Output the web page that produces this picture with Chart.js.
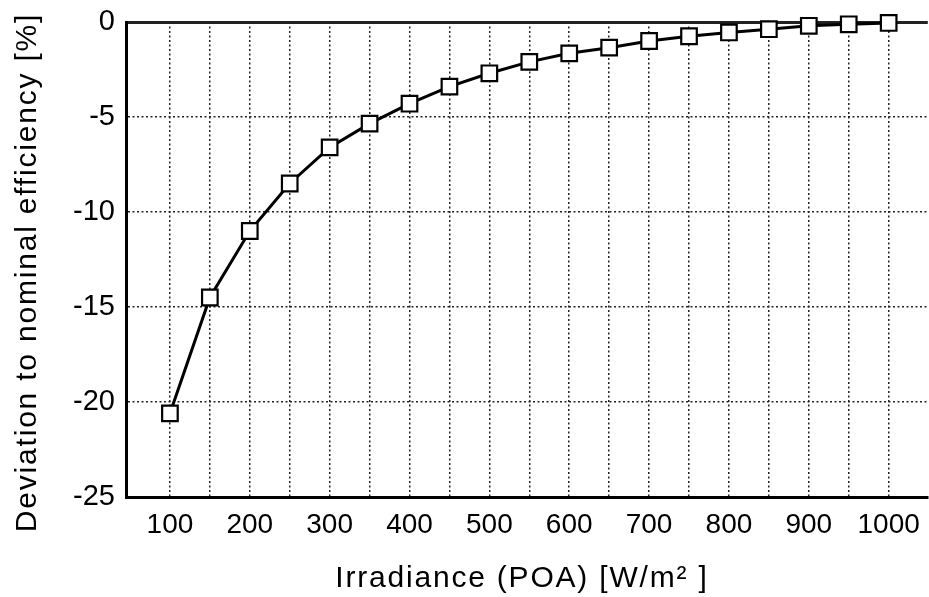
<!DOCTYPE html>
<html>
<head>
<meta charset="utf-8">
<script src="https://cdn.jsdelivr.net/npm/chart.js@4.4.1/dist/chart.umd.min.js"></script>
<style>
  html, body { margin: 0; padding: 0; background: #fff; overflow: hidden; }
  #wrap { width: 929px; height: 597px; overflow: hidden; }
</style>
</head>
<body>
<div id="wrap"><canvas id="c" width="941" height="597"></canvas></div>
<script>
const irradiance = [100,150,200,250,300,350,400,450,500,550,600,650,700,750,800,850,900,950,1000];
const deviation = [-20.6,-14.5,-11.0,-8.5,-6.6,-5.35,-4.3,-3.4,-2.7,-2.1,-1.65,-1.35,-1.0,-0.75,-0.55,-0.38,-0.2,-0.12,-0.05];
const xGridValues = [100,150,200,250,300,350,400,450,500,550,600,650,700,750,800,850,900,950,1000];
const xLabelValues = [100,200,300,400,500,600,700,800,900,1000];
const yTickValues = [0,-5,-10,-15,-20,-25];
const xTitle = 'Irradiance (POA) [W/m\u00B2 ]';
const yTitle = 'Deviation to nominal efficiency [%]';

const FONT = "'Liberation Sans', Arial, Helvetica, sans-serif";
const points = irradiance.map((x, i) => ({x: x, y: deviation[i]}));

const chart = new Chart(document.getElementById('c'), {
  type: 'scatter',
  data: {
    datasets: [{
      data: points,
      showLine: true,
      borderColor: '#000',
      borderWidth: 3,
      pointStyle: 'rect',
      pointRadius: 11,
      pointHoverRadius: 11,
      pointBackgroundColor: '#fff',
      pointBorderColor: '#000',
      pointBorderWidth: 2.2,
      clip: false
    }]
  },
  options: {
    responsive: false,
    animation: false,
    events: [],
    layout: { padding: { top: 22, right: 0, left: 0, bottom: 0 } },
    plugins: { legend: { display: false }, tooltip: { enabled: false } },
    scales: {
      x: {
        type: 'linear',
        min: 45,
        max: 1049,
        afterBuildTicks: (s) => { s.ticks = xGridValues.map(v => ({value: v})); },
        afterFit: (s) => { s.height = 100; s.paddingLeft = 0; s.paddingRight = 0; },
        ticks: {
          autoSkip: false,
          maxRotation: 0,
          padding: 11,
          color: '#000',
          font: { family: FONT, size: 28 },
          callback: (v) => xLabelValues.includes(v) ? String(v) : ''
        },
        grid: {
          drawTicks: false,
          color: '#222',
          lineWidth: 1.5
        },
        border: { display: true, color: '#000', width: 3, dash: [2, 2.5] },
        title: {
          display: true,
          text: xTitle,
          color: '#000',
          font: { family: FONT, size: 30 },
          padding: { top: 12, bottom: 0 }
        }
      },
      y: {
        type: 'linear',
        min: -25,
        max: 0,
        afterBuildTicks: (s) => { s.ticks = yTickValues.map(v => ({value: v})); },
        afterFit: (s) => { s.width = 126; s.paddingTop = 0; s.paddingBottom = 0; },
        ticks: {
          padding: 11,
          color: '#000',
          font: { family: FONT, size: 29 }
        },
        grid: {
          drawTicks: false,
          color: '#222',
          lineWidth: (ctx) => (ctx.tick && ctx.tick.value === 0) ? 3 : 1.5
        },
        border: {
          display: true, color: '#000', width: 3,
          dash: (ctx) => (ctx.tick && ctx.tick.value === 0) ? [] : [2, 2.5]
        },
        title: {
          display: true,
          text: yTitle,
          color: '#000',
          font: { family: FONT, size: 30 },
          padding: { top: 10, bottom: 0 }
        }
      }
    }
  }
});

// widen the axis titles' letter spacing and nudge them to match the reference typesetting
const titleShift = { x: [-5, 0], y: [0, 13] };
['x', 'y'].forEach((id) => {
  const sc = chart.scales[id];
  const orig = sc.drawTitle;
  sc.drawTitle = function () {
    const ctx = this.ctx;
    ctx.save();
    ctx.translate(titleShift[id][0], titleShift[id][1]);
    ctx.letterSpacing = '1.8px';
    orig.apply(this, arguments);
    ctx.restore();
  };
});
chart.draw();
</script>
</body>
</html>
